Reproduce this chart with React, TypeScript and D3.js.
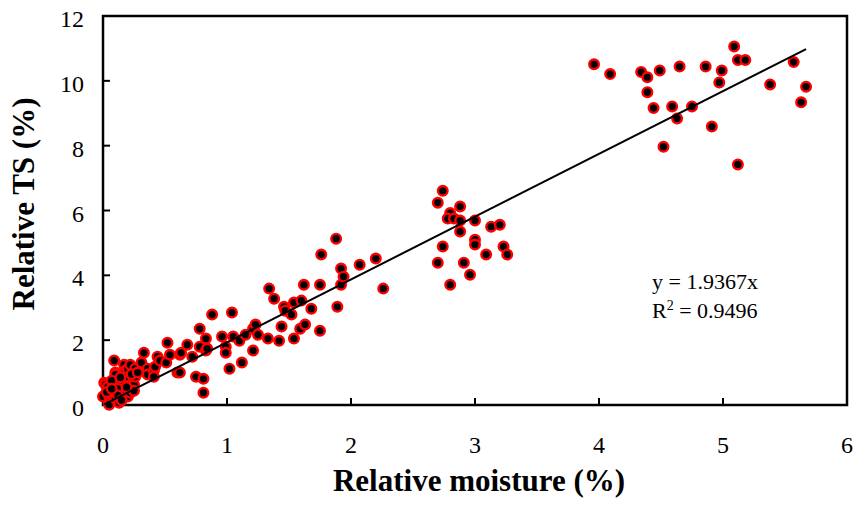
import React from "react";
import * as d3 from "d3";

const moisture: number[] = [
  0.00, 0.01, 0.02, 0.04, 0.05, 0.05, 0.05, 0.09, 0.09, 0.09, 0.09, 0.10, 0.10, 0.10, 0.13, 0.15,
  0.17, 0.17, 0.17, 0.18, 0.18, 0.18, 0.20, 0.20, 0.22, 0.22, 0.25, 0.25, 0.26, 0.26, 0.31, 0.33,
  0.36, 0.36, 0.41, 0.41, 0.42, 0.44, 0.46, 0.51, 0.52, 0.54, 0.60, 0.62, 0.62,
  0.63, 0.68, 0.72, 0.75, 0.78, 0.78, 0.81, 0.81, 0.83, 0.83, 0.84, 0.88, 0.96, 0.99, 0.99, 1.02,
  1.04, 1.05, 1.10, 1.12, 1.15, 1.21, 1.21, 1.23, 1.25, 1.33, 1.34, 1.38, 1.42, 1.44, 1.46, 1.47,
  1.52, 1.54, 1.54, 1.59, 1.60, 1.62, 1.63, 1.68, 1.75, 1.75, 1.76, 1.88, 1.89, 1.92, 1.92, 1.94,
  2.07, 2.20, 2.26,
  2.74, 2.70, 2.88, 2.80, 2.78, 2.83, 2.88, 2.88, 3.00, 3.13, 3.20, 3.00, 3.00, 2.74, 3.23, 3.26,
  3.09, 2.70, 2.91, 2.96, 2.80,
  3.96, 4.09, 4.34, 4.39, 4.49, 4.65, 4.86, 4.99, 4.97, 5.09, 5.12, 5.18, 5.57, 5.38, 5.67, 5.63,
  4.39, 4.44, 4.59, 4.75, 4.63, 4.91, 4.52, 5.12,
  0.03, 0.07, 0.12, 0.14, 0.19, 0.23, 0.28, 0.12, 0.07, 0.15,
];

const ts: number[] = [
  0.26, 0.69, 0.63, 0.57, 0.26, 0.07, 0.01, 0.63, 0.44, 0.26, 1.37, 1.00, 0.94, 0.19, 0.07, 0.26,
  1.24, 0.81, 0.69, 1.06, 0.87, 0.44, 1.12, 0.26, 1.24, 0.38, 0.63, 0.44, 1.12, 0.87, 1.31, 1.61,
  1.12, 0.94, 1.06, 0.87, 1.18, 1.49, 1.37, 1.31, 1.92, 1.55, 1.00, 1.55, 1.00,
  1.61, 1.86, 1.49, 0.87, 2.35, 1.80, 0.81, 0.38, 2.05, 1.68, 1.74, 2.79, 2.11, 1.80, 1.61, 1.12,
  2.85, 2.11, 1.98, 1.31, 2.17, 2.35, 1.68, 2.48, 2.17, 2.05, 3.59, 3.28, 1.98, 2.42, 3.03, 2.91,
  2.79, 3.16, 2.05, 2.35, 3.22, 3.71, 2.48, 2.97, 3.71, 2.29, 4.64, 5.13, 3.03, 4.21, 3.71, 3.96,
  4.33, 4.52, 3.59,
  6.61, 6.24, 6.12, 5.92, 5.75, 5.75, 5.69, 5.35, 5.69, 5.50, 5.56, 5.10, 4.95, 4.89, 4.89, 4.64,
  4.64, 4.39, 4.39, 4.02, 3.71,
  10.51, 10.21, 10.27, 10.11, 10.32, 10.44, 10.44, 10.32, 9.95, 11.06, 10.64, 10.64, 10.58, 9.89, 9.82, 9.34,
  9.65, 9.16, 9.21, 9.21, 8.84, 8.59, 7.97, 7.42,
  0.40, 0.75, 0.50, 0.85, 0.55, 0.95, 1.00, 0.30, 0.50, 0.15,
];

const xTicks: number[] = [0, 1, 2, 3, 4, 5, 6];
const yTicks: number[] = [0, 2, 4, 6, 8, 10, 12];
const slope = 1.9367;
const fitRange: number[] = [0.01, 5.67];
const eqLine1 = "y = 1.9367x";
const r2Value = "0.9496";
const xTitle = "Relative moisture (%)";
const yTitle = "Relative TS (%)";

export default function App() {
  const W = 859;
  const H = 508;
  const x = d3.scaleLinear().domain([0, 6]).range([103, 847]);
  const y = d3.scaleLinear().domain([0, 12]).range([405, 16]);
  const pts = moisture.map((m, i) => ({ m, t: ts[i] }));
  const line = d3
    .line<number>()
    .x((d) => x(d))
    .y((d) => y(slope * d));
  const serif = "'Liberation Serif', 'Times New Roman', serif";
  return (
    <svg
      width={W}
      height={H}
      style={{ position: "absolute", left: 0, top: 0, background: "#fff" }}
    >
      <rect x={0} y={0} width={W} height={H} fill="#fff" />
      {xTicks.slice(1, -1).map((t) => (
        <line key={"xt" + t} x1={x(t)} x2={x(t)} y1={y(0)} y2={y(0) - 7} stroke="#000" strokeWidth={2} />
      ))}
      {yTicks.slice(1, -1).map((t) => (
        <line key={"yt" + t} x1={x(0)} x2={x(0) + 7} y1={y(t)} y2={y(t)} stroke="#000" strokeWidth={2} />
      ))}
      <rect
        x={x(0)}
        y={y(12)}
        width={x(6) - x(0)}
        height={y(0) - y(12)}
        fill="none"
        stroke="#000"
        strokeWidth={2.5}
      />
      {xTicks.map((t) => (
        <text key={"xl" + t} x={x(t)} y={453} textAnchor="middle" fontFamily={serif} fontSize={24} fill="#000">
          {t}
        </text>
      ))}
      {yTicks.map((t) => (
        <text key={"yl" + t} x={84} y={y(t) + 11} textAnchor="end" fontFamily={serif} fontSize={24} fill="#000">
          {t}
        </text>
      ))}
      {pts.map((p, i) => (
        <circle key={i} cx={x(p.m)} cy={y(p.t)} r={4.8} fill="#000" stroke="#ff0000" strokeWidth={2.4} />
      ))}
      <path d={line(fitRange) || ""} fill="none" stroke="#000" strokeWidth={2} />
      <text x={652} y={289} fontFamily={serif} fontSize={22} fill="#000">
        {eqLine1}
      </text>
      <text x={652} y={318} fontFamily={serif} fontSize={22} fill="#000">
        R<tspan dy={-8} fontSize={14}>2</tspan>
        <tspan dy={8}>{" = " + r2Value}</tspan>
      </text>
      <text x={479} y={491} textAnchor="middle" fontFamily={serif} fontWeight="bold" fontSize={31} fill="#000">
        {xTitle}
      </text>
      <text
        transform={`translate(34,204) rotate(-90)`}
        textAnchor="middle"
        fontFamily={serif}
        fontWeight="bold"
        fontSize={31}
        fill="#000"
      >
        {yTitle}
      </text>
    </svg>
  );
}
